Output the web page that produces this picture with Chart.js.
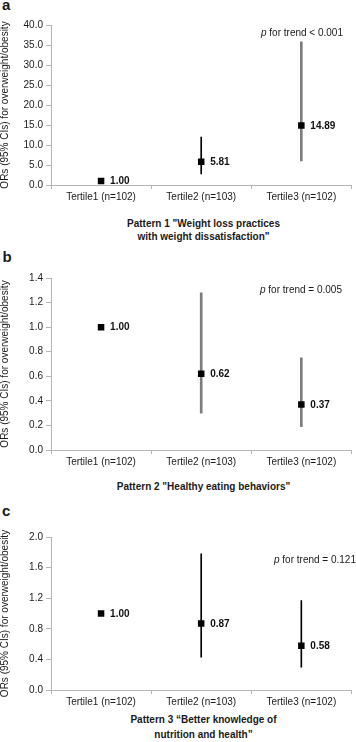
<!DOCTYPE html>
<html>

<head>
  <meta charset="utf-8">
  <script src="https://cdn.jsdelivr.net/npm/chart.js"></script>
  <style>
    body { margin: 0; background: #fff; font-family: "Liberation Sans", Arial, sans-serif; color: #1a1a1a; }
    #wrap { position: relative; width: 356px; height: 742px; overflow: hidden; }
    .box { position: absolute; left: 0; width: 356px; }
    .letter { position: absolute; font-weight: bold; font-size: 15px; line-height: 15px; }
    .ptrend { position: absolute; font-size: 10px; line-height: 12px; white-space: nowrap; }
    .title { position: absolute; left: 51px; width: 305px; text-align: center; font-weight: bold; font-size: 10px; }
  </style>
</head>

<body>
  <div id="wrap">
    <div class="letter" style="left:2px; top:-3px;">a</div>
    <div class="box" style="top:0; height:205px;"><canvas id="chartA" width="356" height="205"></canvas></div>
    <div class="ptrend" style="right:13px; top:27px;"><i>p</i> for trend &lt; 0.001</div>
    <div class="title" style="top:216.5px; line-height:13.4px;">Pattern 1 "Weight loss practices<br>with weight dissatisfaction"</div>

    <div class="letter" style="left:2.5px; top:249px;">b</div>
    <div class="box" style="top:250px; height:220px;"><canvas id="chartB" width="356" height="220"></canvas></div>
    <div class="ptrend" style="right:14px; top:284px;"><i>p</i> for trend = 0.005</div>
    <div class="title" style="top:480px; line-height:13.4px;">Pattern 2 "Healthy eating behaviors"</div>

    <div class="letter" style="left:2px; top:502.5px;">c</div>
    <div class="box" style="top:490px; height:220px;"><canvas id="chartC" width="356" height="220"></canvas></div>
    <div class="ptrend" style="right:0; top:554px;"><i>p</i> for trend = 0.121</div>
    <div class="title" style="top:712px; line-height:15px;">Pattern 3 “Better knowledge of<br>nutrition and health”</div>
  </div>

  <script>
    // categories shared by the three panels
    const categories = ['Tertile1 (n=102)', 'Tertile2 (n=103)', 'Tertile3 (n=102)'];
    const yTitle = 'ORs (95% CIs) for overweight/obesity';

    // Pattern 1 - weight loss practices with weight dissatisfaction
    const orPattern1 = [1.00, 5.81, 14.89];
    const ciLowPattern1 = [null, 2.8, 6.0];
    const ciHighPattern1 = [null, 12.0, 35.8];
    const yMaxPattern1 = 40;
    const yStepPattern1 = 5;

    // Pattern 2 - healthy eating behaviors
    const orPattern2 = [1.00, 0.62, 0.37];
    const ciLowPattern2 = [null, 0.30, 0.19];
    const ciHighPattern2 = [null, 1.28, 0.75];
    const yMaxPattern2 = 1.4;
    const yStepPattern2 = 0.2;

    // Pattern 3 - better knowledge of nutrition and health
    const orPattern3 = [1.00, 0.87, 0.58];
    const ciLowPattern3 = [null, 0.43, 0.30];
    const ciHighPattern3 = [null, 1.78, 1.17];
    const yMaxPattern3 = 2.0;
    const yStepPattern3 = 0.4;

    Chart.defaults.font.family = '"Liberation Sans", Arial, sans-serif';
    Chart.defaults.font.size = 10;
    Chart.defaults.color = '#1a1a1a';

    const axisGrey = '#b5b5b5';

    // bold OR value next to each square
    const valueLabels = {
      id: 'valueLabels',
      afterDatasetsDraw(chart) {
        const meta = chart.getDatasetMeta(0);
        const vals = chart.data.datasets[0].data;
        const ctx = chart.ctx;
        ctx.save();
        ctx.font = 'bold 10px "Liberation Sans", Arial, sans-serif';
        ctx.fillStyle = '#111';
        ctx.textBaseline = 'middle';
        meta.data.forEach((pt, i) => {
          ctx.fillText(vals[i].toFixed(2), pt.x + 9, pt.y + 0.5);
        });
        ctx.restore();
      }
    };

    function makeChart(id, ors, lows, highs, ciKind, yMax, yStep, padTop) {
      const pick = kind => categories.map((c, i) =>
        ciKind[i] === kind && lows[i] != null ? [lows[i], highs[i]] : null);

      return new Chart(document.getElementById(id), {
        type: 'bar',
        data: {
          labels: categories,
          datasets: [
            {
              type: 'line',
              data: ors,
              showLine: false,
              pointStyle: 'rect',
              pointRadius: 4.6,
              pointBackgroundColor: '#000',
              pointBorderWidth: 0,
              order: 0
            },
            {
              data: pick('thin'),
              backgroundColor: '#000',
              barThickness: 1,
              grouped: false,
              order: 1
            },
            {
              data: pick('thick'),
              backgroundColor: '#7d7d7d',
              barThickness: 2,
              grouped: false,
              order: 2
            }
          ]
        },
        options: {
          responsive: false,
          animation: false,
          layout: { padding: { top: padTop, right: 1, left: 0, bottom: 0 } },
          plugins: { legend: { display: false }, tooltip: { enabled: false } },
          scales: {
            x: {
              grid: { display: true, drawOnChartArea: false, offset: true, tickLength: 4, color: axisGrey },
              border: { color: axisGrey },
              ticks: { padding: 2, maxRotation: 0, autoSkip: false },
              afterFit: s => { s.height = 20; }
            },
            y: {
              min: 0,
              max: yMax,
              ticks: { stepSize: yStep, padding: 3, callback: v => Number(v).toFixed(1) },
              grid: { drawOnChartArea: false, tickLength: 5, color: axisGrey },
              border: { color: axisGrey },
              title: { display: true, text: yTitle, padding: 0, font: { size: 10, lineHeight: 1 } },
              afterFit: s => { s.width = 51; }
            }
          }
        },
        plugins: [valueLabels]
      });
    }

    makeChart('chartA', orPattern1, ciLowPattern1, ciHighPattern1, ['none', 'thin', 'thick'], yMaxPattern1, yStepPattern1, 25);
    makeChart('chartB', orPattern2, ciLowPattern2, ciHighPattern2, ['none', 'thick', 'thick'], yMaxPattern2, yStepPattern2, 28);
    makeChart('chartC', orPattern3, ciLowPattern3, ciHighPattern3, ['none', 'thin', 'thin'], yMaxPattern3, yStepPattern3, 47);
  </script>
</body>

</html>
